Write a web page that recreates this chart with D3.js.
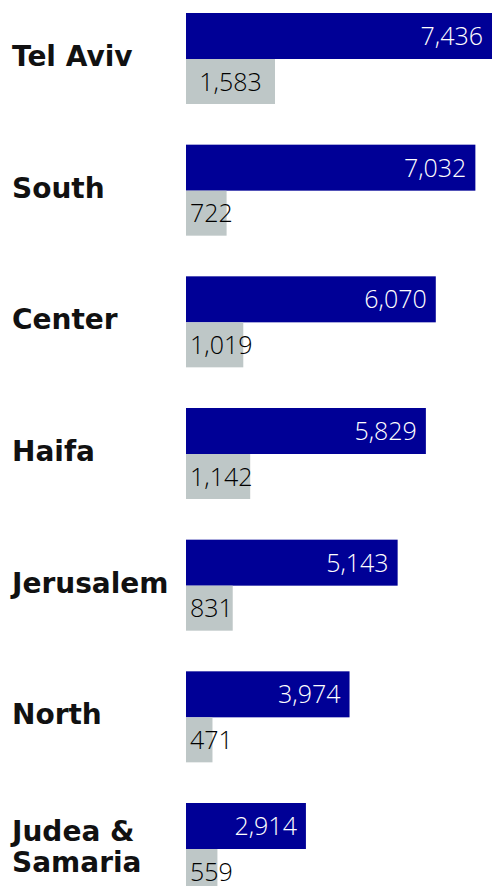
<!DOCTYPE html>
<html>
  <head>
    <meta charset="utf-8" />
    <script src="https://d3js.org/d3.v7.min.js"></script>
    <style>
      body,
      html {
        margin: 0;
        padding: 0;
        background: white;
      }
      svg {
        display: block;
      }
    </style>
  </head>
  <body>
    <svg id="chart" width="500" height="886"></svg>
    <script>
      const regions = [
        "Tel Aviv",
        "South",
        "Center",
        "Haifa",
        "Jerusalem",
        "North",
        "Judea & Samaria",
      ];
      const mainValues = [7436, 7032, 6070, 5829, 5143, 3974, 2914];
      const subValues = [1583, 722, 1019, 1142, 831, 471, 559];

      const svg = d3.select("#chart");
      const left = 186;
      const barH = 46;
      const subH = 45;
      const fmt = d3.format(",");

      // rows: top of the blue bar for each region
      const y = d3.scalePoint().domain(regions).range([13, 803]);

      // the two series are drawn on their own scales
      const xMain = d3.scaleLinear().domain([0, 7436]).range([0, 306]);
      const xSub = d3.scaleLinear().domain([0, 1583]).range([0, 89]);

      const rows = regions.map((r, i) => ({
        region: r,
        main: mainValues[i],
        sub: subValues[i],
      }));

      const g = svg
        .selectAll("g.row")
        .data(rows)
        .join("g")
        .attr("class", "row")
        .attr("transform", (d) => `translate(0,${y(d.region)})`);

      // main (blue) bars
      g.append("rect")
        .attr("x", left)
        .attr("y", 0)
        .attr("width", (d) => xMain(d.main))
        .attr("height", barH)
        .attr("fill", "#000096");

      // secondary (grey) bars
      g.append("rect")
        .attr("x", left)
        .attr("y", barH)
        .attr("width", (d) => xSub(d.sub))
        .attr("height", subH)
        .attr("fill", "#bec7c7");

      g.append("text")
        .attr("x", (d) => left + xMain(d.main) - 9)
        .attr("y", barH / 2 + 9)
        .attr("text-anchor", "end")
        .attr("fill", "white")
        .style("font-family", "'Open Sans', sans-serif")
        .style("font-weight", 300)
        .style("font-size", "25px")
        .text((d) => fmt(d.main));

      // grey labels: centred on the bar, but never starting before its edge
      g.append("text")
        .attr("y", barH + subH / 2 + 9)
        .attr("fill", "black")
        .style("font-family", "'Open Sans', sans-serif")
        .style("font-weight", 300)
        .style("font-size", "25px")
        .text((d) => fmt(d.sub))
        .attr("x", function (d) {
          const w = this.getComputedTextLength();
          return Math.max(left + xSub(d.sub) / 2 - w / 2, left + 4);
        });

      // region names, wrapped onto two lines if too wide
      g.append("text")
        .attr("fill", "#111")
        .style("font-family", "'DejaVu Sans', sans-serif")
        .style("font-weight", 700)
        .style("font-size", "28px")
        .each(function (d) {
          const t = d3.select(this);
          t.text(d.region);
          let lines = [d.region];
          if (this.getComputedTextLength() > 168) {
            const words = d.region.split(" ");
            lines = [words.slice(0, -1).join(" "), words[words.length - 1]];
          }
          t.text(null);
          const base = 53 - ((lines.length - 1) * 31) / 2;
          lines.forEach((l, k) => {
            t.append("tspan")
              .attr("x", 12)
              .attr("y", base + k * 31)
              .text(l);
          });
        });
    </script>
  </body>
</html>
